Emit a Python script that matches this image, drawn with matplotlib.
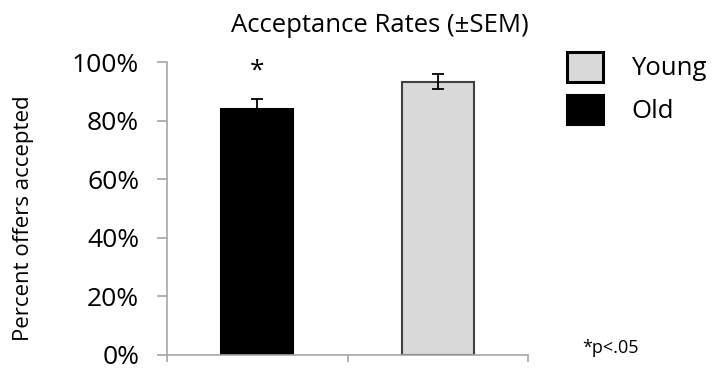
import matplotlib
matplotlib.use("Agg")
import matplotlib.pyplot as plt
from matplotlib.patches import Patch

plt.rcParams.update({
    "font.family": ["Open Sans", "DejaVu Sans"],
    "font.size": 18,
})

groups = ["Old", "Young"]
rates = [84.0, 93.3]
sem = [3.3, 2.45]
colors = ["#000000", "#d9d9d9"]
edges = ["#000000", "#404040"]
yticks = [0, 20, 40, 60, 80, 100]

W, H = 715, 379
fig = plt.figure(figsize=(W / 100, H / 100), dpi=100)
ax = fig.add_axes([167 / W, 1 - 355 / H, 361 / W, 293 / H])

xpos = [0.5, 1.5]
for x, v, e, c, ec in zip(xpos, rates, sem, colors, edges):
    ax.bar(x, v, width=0.40, color=c, edgecolor=ec, linewidth=1.5, zorder=2)
    ax.errorbar(x, v, yerr=e, fmt="none", ecolor="black", elinewidth=1.3,
                capsize=4.5, capthick=1.3, zorder=3)

# significance marker over the Old bar
ax.text(xpos[0], 97.0, "*", ha="center", va="center", fontsize=19)

ax.set_xlim(0, 2)
ax.set_ylim(0, 100)
ax.set_yticks(yticks)
ax.set_yticklabels([f"{t}%" for t in yticks])
ax.set_xticks([0, 1, 2])
ax.set_xticklabels([])
for s in ["top", "right"]:
    ax.spines[s].set_visible(False)
for s in ["left", "bottom"]:
    ax.spines[s].set_color("#a6a6a6")
    ax.spines[s].set_linewidth(1.2)
ax.tick_params(axis="y", direction="out", length=7, width=1.2, color="#a6a6a6",
               labelsize=19, pad=13)
ax.tick_params(axis="x", direction="out", length=5, width=1.2, color="#a6a6a6")
ax.set_ylabel("Percent offers accepted", fontsize=16)
ax.yaxis.set_label_coords((34 - 167) / 361, (355 - 218) / 293)

fig.text(380 / W, 1 - 25 / H, "Acceptance Rates (\u00b1SEM)", fontsize=18.5,
         ha="center", va="center")

handles = [Patch(facecolor=colors[1], edgecolor="#000000", linewidth=2.2),
           Patch(facecolor=colors[0], edgecolor="#000000", linewidth=2.2)]
fig.legend(handles, ["Young", "Old"], loc="upper left",
           bbox_to_anchor=(567 / W, 1 - 52 / H), frameon=False, borderpad=0,
           borderaxespad=0, handlelength=1.4, handleheight=1.4,
           handletextpad=1.1, labelspacing=0.5, fontsize=18.5)

fig.text(582 / W, 1 - 348 / H, "*p<.05", fontsize=13, ha="left", va="center")

fig.savefig("out.png", dpi=100)
